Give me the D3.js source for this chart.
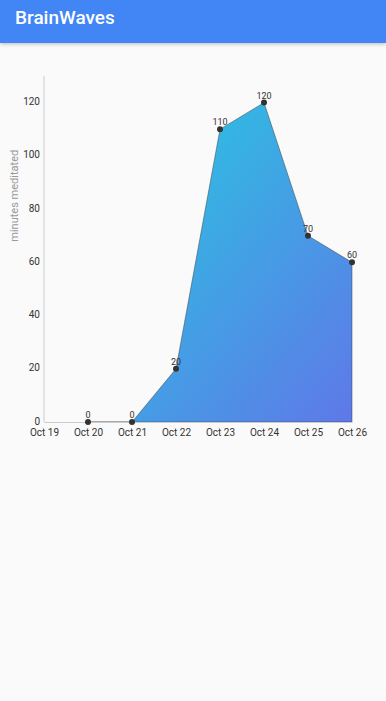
<!DOCTYPE html>
<html>
<head>
<meta charset="utf-8">
<script src="https://cdn.jsdelivr.net/npm/d3@7"></script>
<style>
  body { margin: 0; background: #fafafa; font-family: Roboto, sans-serif; }
  .bar { height: 43px; background: #4285f4; color: #fff; font-size: 19px; font-weight: 500;
         line-height: 36px; padding-left: 15px; box-shadow: 0 1px 4px rgba(0,0,0,0.25); }
</style>
</head>
<body>
<div class="bar">BrainWaves</div>
<div id="chart"></div>
<script>
const days = ["Oct 19", "Oct 20", "Oct 21", "Oct 22", "Oct 23", "Oct 24", "Oct 25", "Oct 26"];
const pointDays = ["Oct 20", "Oct 21", "Oct 22", "Oct 23", "Oct 24", "Oct 25", "Oct 26"];
const minutes = [0, 0, 20, 110, 120, 70, 60];
const yTicks = [0, 20, 40, 60, 80, 100, 120];

const width = 386, height = 658;
const svg = d3.select("#chart").append("svg").attr("width", width).attr("height", height);

// chart area in page coords minus header (43px)
const x = d3.scalePoint().domain(days).range([44, 352]);
const y = d3.scaleLinear().domain([0, 130]).range([422 - 43, 76 - 43]);

const data = pointDays.map((d, i) => ({ day: d, value: minutes[i] }));

const defs = svg.append("defs");
const grad = defs.append("linearGradient").attr("id", "fillGrad")
  .attr("x1", "0%").attr("y1", "0%").attr("x2", "100%").attr("y2", "100%");
grad.append("stop").attr("offset", "0%").attr("stop-color", "#22cfe0");
grad.append("stop").attr("offset", "100%").attr("stop-color", "#5f78e8");

svg.append("path")
  .datum(data)
  .attr("fill", "url(#fillGrad)")
  .attr("stroke", "rgba(60,60,60,0.6)")
  .attr("stroke-width", 0.8)
  .attr("d", d3.area().x(d => x(d.day)).y0(y(0)).y1(d => y(d.value)));

// axes
const yAxis = svg.append("g").attr("transform", `translate(${x("Oct 19")},0)`)
  .call(d3.axisLeft(y).tickValues(yTicks).tickSize(0).tickPadding(4));
yAxis.select(".domain").attr("stroke", "#ccc").attr("d", `M0,${y(0)}V${y(130)}`);
yAxis.selectAll("text").attr("font-size", 10).attr("fill", "#333")
  .attr("font-family", "Roboto, sans-serif").attr("dy", "0.2em");

const xAxis = svg.append("g").attr("transform", `translate(0,${y(0)})`)
  .call(d3.axisBottom(x).tickSize(0).tickPadding(7));
xAxis.select(".domain").attr("stroke", "#ccc");
xAxis.selectAll("text").attr("font-size", 10).attr("fill", "#333").attr("font-family", "Roboto, sans-serif");

svg.append("text")
  .attr("transform", `translate(18,${y(85)}) rotate(-90)`)
  .attr("text-anchor", "middle")
  .attr("font-size", 11).attr("fill", "#999")
  .text("minutes meditated");

svg.append("g").selectAll("circle").data(data).join("circle")
  .attr("cx", d => x(d.day)).attr("cy", d => y(d.value)).attr("r", 3)
  .attr("fill", "#333");

svg.append("g").selectAll("text").data(data).join("text")
  .attr("x", d => x(d.day)).attr("y", d => y(d.value) - 4)
  .attr("text-anchor", "middle").attr("font-size", 9).attr("fill", "#333")
  .text(d => d.value);
</script>
</body>
</html>
